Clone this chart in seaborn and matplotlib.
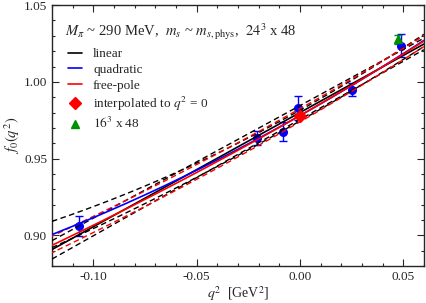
import numpy as np
import pandas as pd
import seaborn as sns
import matplotlib.pyplot as plt
from matplotlib.lines import Line2D
from matplotlib.ticker import MultipleLocator

# lattice points (24^3 x 48)
q2_pts = [-0.107, -0.021, -0.008, -0.001, 0.025, 0.049]
f0_pts = [0.906, 0.9633, 0.9676, 0.9828, 0.9948, 1.0237]
f0_err = [0.0065, 0.0045, 0.006, 0.0077, 0.0042, 0.0078]

# interpolated value at q^2 = 0
q2_int = [0.0]
f0_int = [0.9780]

# 16^3 x 48 point
q2_16 = [0.0473]
f0_16 = [1.0278]
err_16 = [0.003]

# fit curves: linear [b, a], quadratic [c, b, a] (polyval order), free-pole f0/(1-q2/m2)
lin_c = [0.744, 0.9800]
lin_up = [0.733, 0.9845]
lin_lo = [0.758, 0.9755]
quad_c = [0.949, 0.7597, 0.978]
quad_up = [1.231, 0.751, 0.9815]
quad_lo = [0.671, 0.768, 0.9745]
pole_f0 = [0.978, 0.9825, 0.9739]
pole_m2 = [1.269, 1.30, 1.251]

sns.set_style("ticks")
plt.rcParams["font.family"] = ["Liberation Serif", "DejaVu Serif"]
plt.rcParams["mathtext.fontset"] = "stix"

fig = plt.figure(figsize=(4.26, 3.03), dpi=100)
ax = fig.add_axes([0.122, 0.122, 0.873, 0.861])

q = np.linspace(-0.12, 0.06, 200)

# points first, curves on top
ax.errorbar(q2_pts, f0_pts, yerr=f0_err, fmt="o", color="#0000ff", ms=5.5,
            capsize=3, elinewidth=1, capthick=1, zorder=2)
ax.errorbar(q2_16, f0_16, yerr=err_16, fmt="^", color="#009000", ms=5.5,
            capsize=3, elinewidth=1, capthick=1, zorder=2)

curves = pd.DataFrame({
    "q2": q,
    "lin": np.polyval(lin_c, q),
    "lin_up": np.polyval(lin_up, q),
    "lin_lo": np.polyval(lin_lo, q),
    "quad": np.polyval(quad_c, q),
    "quad_up": np.polyval(quad_up, q),
    "quad_lo": np.polyval(quad_lo, q),
    "pole": pole_f0[0] / (1 - q / pole_m2[0]),
    "pole_up": pole_f0[1] / (1 - q / pole_m2[1]),
    "pole_lo": pole_f0[2] / (1 - q / pole_m2[2]),
})

for col in ["lin_up", "lin_lo", "quad_up", "quad_lo"]:
    sns.lineplot(data=curves, x="q2", y=col, ax=ax, color="black", lw=1,
                 ls=(0, (4, 2.5)), zorder=3)
for col in ["pole_up", "pole_lo"]:
    sns.lineplot(data=curves, x="q2", y=col, ax=ax, color="#ff0000", lw=1,
                 ls=(2, (4, 2.5)), zorder=3)
sns.lineplot(data=curves, x="q2", y="lin", ax=ax, color="black", lw=1.2, zorder=4)
sns.lineplot(data=curves, x="q2", y="quad", ax=ax, color="#0000ff", lw=1.2, zorder=4)
sns.lineplot(data=curves, x="q2", y="pole", ax=ax, color="#ff0000", lw=1.2, zorder=4)

ax.plot(q2_int, f0_int, "D", color="#ff0000", ms=6.5, zorder=5)

ax.set_xlim(-0.12, 0.06)
ax.set_ylim(0.88, 1.05)
ax.xaxis.set_major_locator(MultipleLocator(0.05))
ax.xaxis.set_minor_locator(MultipleLocator(0.01))
ax.yaxis.set_major_locator(MultipleLocator(0.05))
ax.yaxis.set_minor_locator(MultipleLocator(0.01))
ax.xaxis.set_major_formatter(plt.FuncFormatter(lambda v, p: f"{v:.2f}".replace("-0.00", "0.00")))
ax.yaxis.set_major_formatter(plt.FuncFormatter(lambda v, p: f"{v:.2f}"))
ax.tick_params(which="both", direction="in", top=True, right=True, labelsize=9.5, width=0.8)
ax.tick_params(which="major", length=5)
ax.tick_params(which="minor", length=2.5)
for s in ax.spines.values():
    s.set_linewidth(1)

ax.set_xlabel(r"$q^2$  [GeV$^2$]", fontsize=10, labelpad=1)
ax.set_ylabel(r"$f_0(q^2)$", fontsize=10.5, labelpad=1)

ax.text(0.035, 0.897, r"$M_\pi$ ~ 290 MeV,  $m_s$ ~ $m_{s,\mathrm{phys}}$,  $24^3$ x 48",
        transform=ax.transAxes, fontsize=10.5, va="center")

handles = [
    Line2D([], [], color="black", lw=1.2),
    Line2D([], [], color="#0000ff", lw=1.2),
    Line2D([], [], color="#ff0000", lw=1.2),
    Line2D([], [], marker="D", color="#ff0000", ls="none", ms=6.5),
    Line2D([], [], marker="^", color="#009000", ls="none", ms=6),
]
labels = ["linear", "quadratic", "free-pole", r"interpolated to $q^2$ = 0", r"$16^3$ x 48"]
ax.legend(handles, labels, loc="upper left", bbox_to_anchor=(0.043, 0.835), frameon=False,
          fontsize=9.5, handlelength=1.1, handletextpad=0.8, labelspacing=0.25,
          borderaxespad=0, borderpad=0)

fig.savefig("out.png", dpi=100)
